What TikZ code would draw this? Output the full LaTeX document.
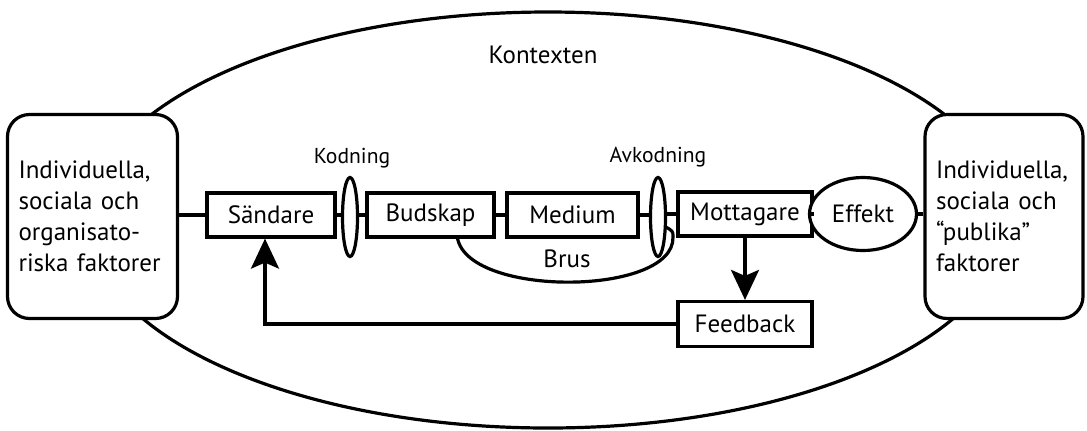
\documentclass[tikz,border=0pt]{standalone}
\usepackage{fontspec}
\setmainfont{PT Sans}
\usetikzlibrary{arrows.meta,positioning,shapes.geometric,calc}

\begin{document}
\begin{tikzpicture}[x=0.5pt, y=-0.5pt,
  >={Stealth[length=15pt, width=14pt, inset=3pt]}, line width=1.6pt,
  blk/.style={draw, fill=white, minimum width=64pt, minimum height=22pt, inner sep=2pt, font=\fontsize{12.5}{15}\selectfont},
  side/.style={draw, fill=white, rounded corners=11pt, minimum height=102pt, inner sep=0pt, align=left, font=\fontsize{12.5}{15.5}\selectfont},
  lens/.style={draw, fill=white, ellipse, minimum width=7.5pt, minimum height=39.5pt, inner sep=0pt},
  lbl/.style={font=\fontsize{10.8}{13}\selectfont, inner sep=1pt}]
\useasboundingbox (0,0) rectangle (1087,430);
% context
\node[draw, ellipse, minimum width=460pt, minimum height=208pt, inner sep=0pt] (ctx) at (548,220) {};
\node[font=\fontsize{12.5}{15}\selectfont] (ctxl) at (543,55) {Kontexten};
% noise loop, behind the boxes
\coordinate (brusL) at (457,232);
\coordinate (brusR) at (664,226);
\draw (brusL) .. controls (455,298) and (675,298) .. (673,237) .. controls (673,231) .. (brusR);
\node[font=\fontsize{12.5}{15}\selectfont] (brus) at (567,259) {Brus};
% factors
\node[side, minimum width=85pt, text width=74pt] (lf) at (92.5,216.5) {Individuella,\\sociala och\\organisato-\\riska faktorer};
\node[side, minimum width=79pt, text width=68pt] (rf) at (1004,216.5) {Individuella,\\sociala och\\“publika”\\faktorer};
% chain
\node[blk] (src) at (271,215) {Sändare};
\node[lens] (kod) at (350,217) {};
\node[blk, minimum width=63.5pt] (msg) at (430.5,215) {Budskap};
\node[blk, minimum width=65.5pt] (med) at (572.5,215) {Medium};
\node[lens] (avk) at (658,217) {};
\node[blk, minimum width=67pt] (rcv) at (745,214) {Mottagare};
\node[draw, fill=white, ellipse, minimum width=53.5pt, minimum height=36.5pt, inner sep=0pt, font=\fontsize{12.5}{15}\selectfont] (eff) at (863,214) {Effekt};
\node[blk, minimum width=67pt, minimum height=22.5pt] (fb) at (745,324) {Feedback};
\node[lbl] (kodl) at (352,158) {Kodning};
\node[lbl] (avkl) at (658,157) {Avkodning};
% connectors
\draw (lf.east |- src.west) -- (src.west);
\draw (src.east) -- (src.east -| kod.west);
\draw (src.east -| kod.east) -- (msg.west);
\draw (msg) -- (med);
\draw (med.east) -- (med.east -| avk.west);
\draw (rcv.west -| avk.east) -- (rcv.west);
\draw (rcv) -- (eff);
\draw (eff.east) -- (eff.east -| rf.west);
\draw[->] (rcv) -- (fb);
\draw[->] (fb.west) -| ([xshift=-3pt]src.south);
\end{tikzpicture}
\end{document}
